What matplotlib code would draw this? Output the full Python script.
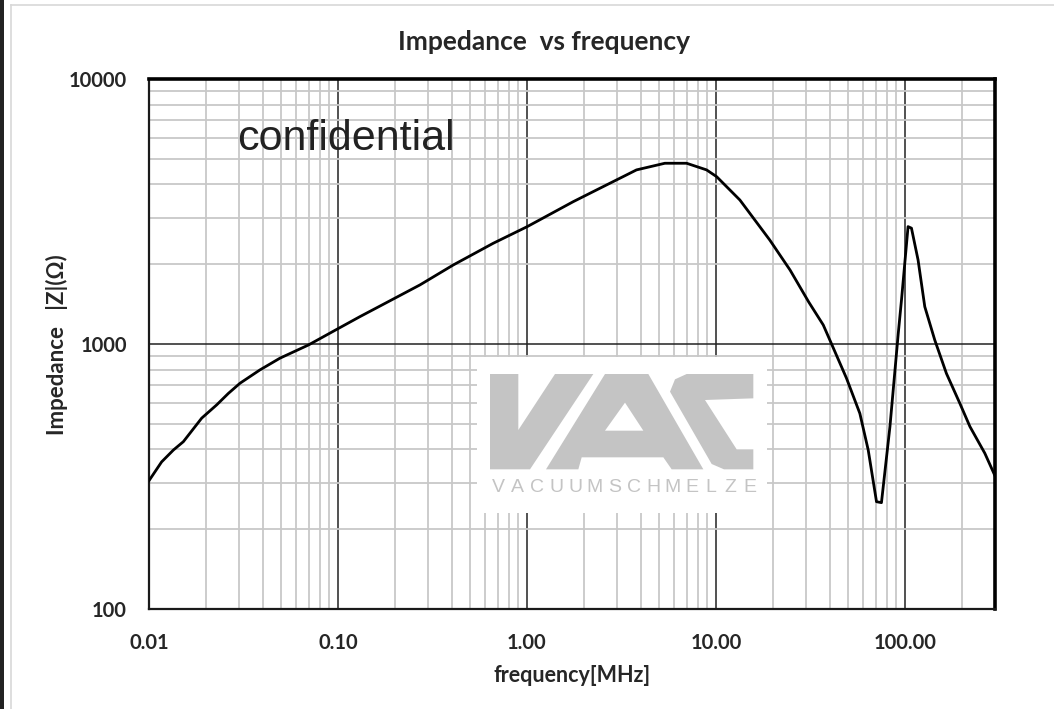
import matplotlib.pyplot as plt
from matplotlib.patches import Polygon, Rectangle
from matplotlib.ticker import FixedLocator, LogLocator, NullFormatter
import numpy as np

# impedance curve (frequency in MHz, |Z| in ohm)
freq_mhz = [0.01, 0.01166, 0.01346, 0.0152, 0.019, 0.0228, 0.0263, 0.0303, 0.0386,
            0.0493, 0.0697, 0.0984, 0.1306, 0.1667, 0.2716, 0.407, 0.663, 1.004,
            1.758, 2.43, 3.365, 3.80, 5.37, 7.0, 8.93, 10.1, 13.4, 19.3, 24.7,
            31.0, 37.0, 40.1, 49.1, 57.8, 64.0, 70.8, 75.2, 83.4, 92.3, 96.0,
            104.0, 108.4, 117.5, 127.5, 144.0, 166.0, 195.5, 221.0, 265.0, 300.0]
impedance = [305, 359, 398, 428, 525, 589, 651, 711, 798,
             884, 991, 1135, 1268, 1390, 1671, 1986, 2399, 2773,
             3444, 3868, 4345, 4539, 4809, 4809, 4539, 4278, 3494, 2466, 1901,
             1440, 1180, 1035, 743, 547, 398, 254, 252, 488, 1097, 1466,
             2773, 2736, 2075, 1383, 1035, 774, 597, 488, 387, 318]

x_ticks = [0.01, 0.1, 1, 10, 100]
x_tick_labels = ['0.01', '0.10', '1.00', '10.00', '100.00']
y_ticks = [100, 1000, 10000]
y_tick_labels = ['100', '1000', '10000']

FONT = ['Lato', 'DejaVu Sans']
W, H = 1054, 709

fig = plt.figure(figsize=(W / 100, H / 100), dpi=100)
ax = fig.add_axes([149 / W, 1 - 609 / H, (995 - 149) / W, (609 - 79) / H])

ax.set_xscale('log')
ax.set_yscale('log')
ax.set_xlim(0.01, 300)
ax.set_ylim(100, 10000)

# grid: gray minor, black major
ax.xaxis.set_minor_locator(LogLocator(base=10, subs=np.arange(2, 10)))
ax.yaxis.set_minor_locator(LogLocator(base=10, subs=np.arange(2, 10)))
ax.xaxis.set_minor_formatter(NullFormatter())
ax.yaxis.set_minor_formatter(NullFormatter())
ax.grid(True, which='minor', color='#c8c8c8', linewidth=1.3)
ax.grid(True, which='major', color='#222222', linewidth=1.1)
ax.set_axisbelow(True)

ax.xaxis.set_major_locator(FixedLocator(x_ticks))
ax.yaxis.set_major_locator(FixedLocator(y_ticks))
ax.set_xticklabels(x_tick_labels)
ax.set_yticklabels(y_tick_labels)
ax.tick_params(which='both', length=0)
ax.tick_params(axis='x', pad=17)
ax.tick_params(axis='y', pad=16)
for lbl in ax.get_xticklabels() + ax.get_yticklabels():
    lbl.set_family(FONT)
    lbl.set_fontweight('bold')
    lbl.set_fontsize(14.5)
    lbl.set_color('#262626')

for side in ['top', 'right']:
    ax.spines[side].set_linewidth(2.6)
    ax.spines[side].set_color('black')
for side in ['left', 'bottom']:
    ax.spines[side].set_linewidth(1.6)
    ax.spines[side].set_color('#1a1a1a')

# logo background and logo (decoration, figure pixel coords)
def px(x, y):
    return (x / W, 1 - y / H)

fig_tr = fig.transFigure
logo_bg = Rectangle(px(477, 513), 290 / W, 156 / H, transform=fig_tr,
                    facecolor='white', edgecolor='none', zorder=3)
fig.add_artist(logo_bg)

def zoomed(pts):
    # points measured on a 3x crop whose origin was (470, 350)
    return [px(470 + a / 3, 350 + b / 3) for a, b in pts]

logo_grey = '#c4c4c4'
v_shape = zoomed([(60, 72), (145, 72), (145, 240), (255, 72), (370, 72),
                  (180, 358), (60, 358)])
a_shape = zoomed([(228, 358), (405, 72), (535, 72), (700, 358), (605, 358),
                  (580, 322), (335, 322), (325, 358)])
a_hole = zoomed([(405, 242), (465, 158), (520, 242)])
c_shape = zoomed([(600, 125), (615, 88), (650, 72), (850, 72), (850, 145),
                  (705, 150), (800, 298), (850, 298), (850, 358), (762, 358),
                  (725, 342)])
for shape, col in [(v_shape, logo_grey), (a_shape, logo_grey),
                   (a_hole, 'white'), (c_shape, logo_grey)]:
    fig.add_artist(Polygon(shape, closed=True, transform=fig_tr,
                           facecolor=col, edgecolor='none', zorder=4))

brand = 'VACUUMSCHMELZE'
for i, ch in enumerate(brand):
    bx = 498 + i * (750 - 498) / (len(brand) - 1)
    fig.text(bx / W, 1 - 488 / H, ch, ha='center', va='center',
             fontsize=14, color=logo_grey, family='Liberation Sans', zorder=5)

# curve
ax.plot(freq_mhz, impedance, color='black', linewidth=2.0, zorder=6)

ax.text(346 / W, 1 - 139 / H, 'confidential', transform=fig_tr, ha='center',
        va='center', fontsize=31, family='Liberation Sans', color='#222222',
        zorder=6)

fig.text(544 / W, 1 - 42 / H, 'Impedance  vs frequency', ha='center',
         va='center', fontsize=19, fontweight='bold', family=FONT,
         color='#262626')
fig.text(57 / W, 1 - 345 / H, 'Impedance   |Z|(Ω)', ha='center', va='center',
         rotation=90, fontsize=16, fontweight='bold', family=FONT,
         color='#262626')
fig.text(572 / W, 1 - 676 / H, 'frequency[MHz]', ha='center', va='center',
         fontsize=15.5, fontweight='bold', family=FONT, color='#262626')

# page frame from the screenshot
fig.add_artist(Rectangle((0, 0), 3.5 / W, 1, transform=fig_tr,
                         facecolor='#222222', edgecolor='none'))
fig.add_artist(plt.Line2D([10.5 / W, 10.5 / W], [0, 1 - 4.5 / H],
                          transform=fig_tr, color='#d8d8d8', linewidth=1.2))
fig.add_artist(plt.Line2D([10.5 / W, 1], [1 - 4.5 / H, 1 - 4.5 / H],
                          transform=fig_tr, color='#d8d8d8', linewidth=1.2))

fig.savefig('out.png', dpi=100)
